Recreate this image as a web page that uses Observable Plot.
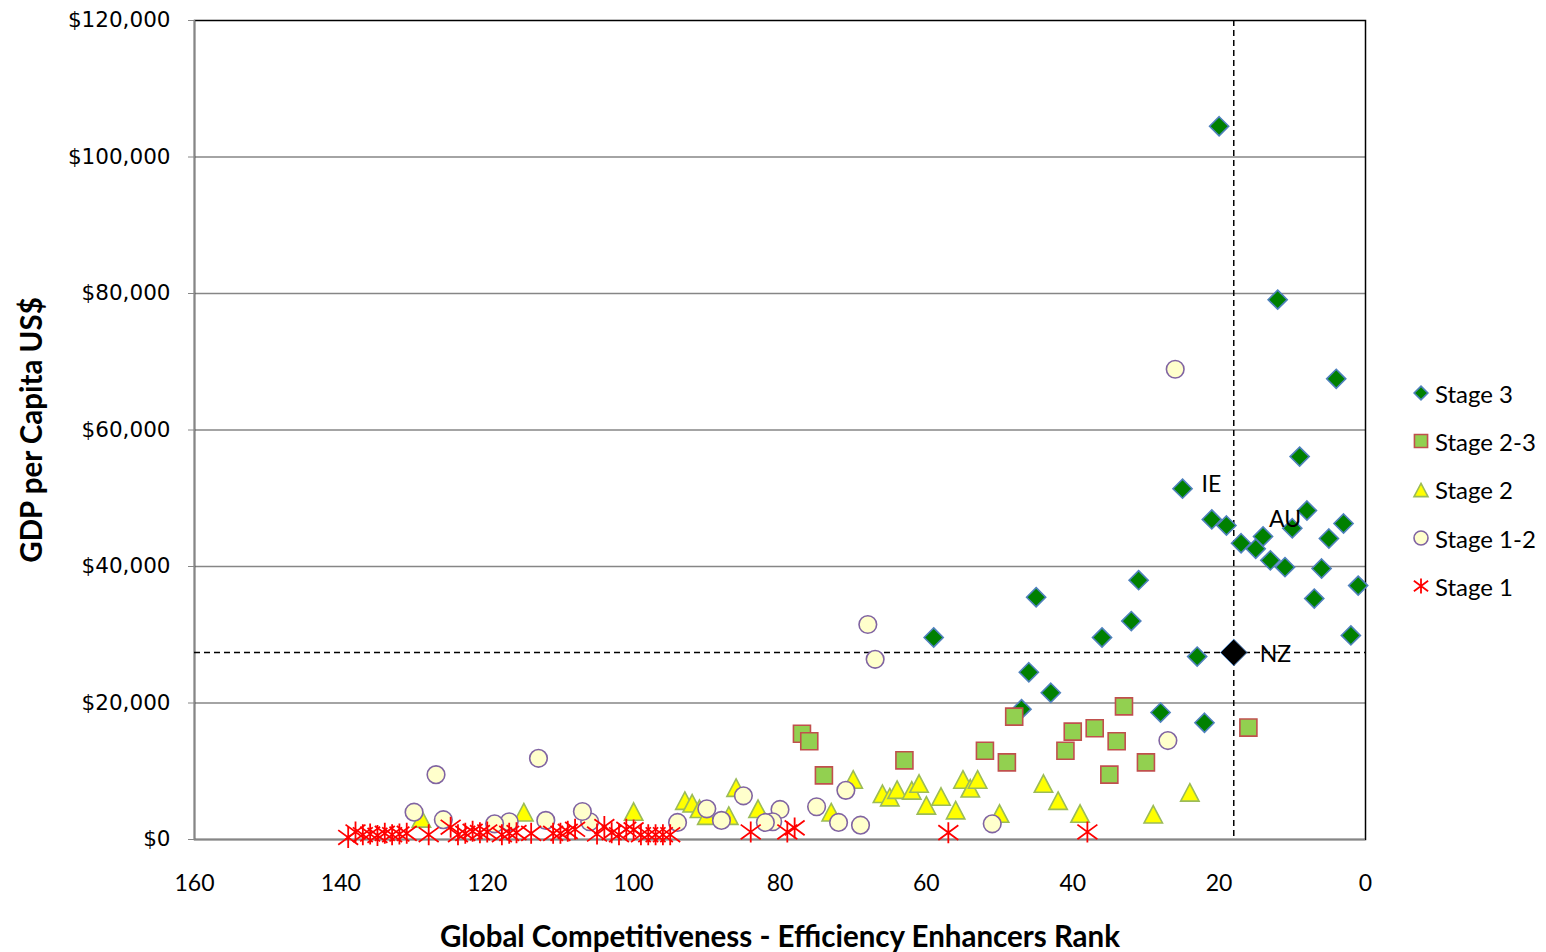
<!DOCTYPE html>
<html>
<head>
<meta charset="utf-8">
<script src="https://cdn.jsdelivr.net/npm/d3@7"></script>
<script src="https://cdn.jsdelivr.net/npm/@observablehq/plot@0.6"></script>
<style>
  body { margin: 0; background: #fff; }
  #wrap { position: relative; width: 1546px; height: 952px; overflow: hidden; background: #fff; }
  #legend { position: absolute; left: 1412px; top: 369px; font-family: Lato, sans-serif; font-size: 24px; color: #000; }
  #legend .row { display: flex; align-items: center; height: 48.3px; }
  #legend .row svg { margin-right: 5px; }
</style>
</head>
<body>
<div id="wrap"></div>
<script>
// ---- data: [rank, GDP per capita US$] ----
const stage3 = [
  [20,104500],[12,79100],[4,67500],[9,56100],[25,51400],[8,48200],[3,46300],[21,46900],
  [19,46000],[10,45600],[14,44400],[5,44100],[17,43400],[15,42600],[13,40900],[11,39900],
  [6,39700],[1,37200],[31,38000],[45,35500],[7,35300],[32,32000],[36,29600],[59,29600],
  [2,29900],[23,26800],[46,24500],[43,21500],[47,19100],[28,18600],[22,17100]
];
const stage23 = [
  [33,19500],[48,18000],[37,16300],[40,15800],[16,16400],[77,15500],[76,14400],[34,14400],
  [41,13000],[52,13000],[63,11600],[49,11300],[30,11300],[74,9400],[35,9500]
];
const stage2 = [
  [129,3100],[115,4000],[100,4100],[93,5700],[92,5300],[91,4500],[90,3500],[87,3500],
  [86,7600],[83,4500],[73,4000],[70,8800],[66,6700],[65,6200],[64,7300],[62,7200],
  [61,8200],[60,5000],[58,6300],[56,4300],[55,8800],[54,7500],[53,8800],[50,3800],
  [44,8200],[42,5700],[39,3800],[29,3700],[24,6900]
];
const stage12 = [
  [26,68900],[68,31500],[67,26400],[113,11900],[127,9500],[27,14500],[51,2300],[71,7200],
  [72,2500],[69,2100],[75,4800],[80,4400],[81,2600],[82,2500],[85,6400],[88,2800],
  [90,4500],[94,2500],[106,2600],[107,4100],[112,2800],[117,2600],[119,2300],[126,2900],[130,4000]
];
const stage1 = [
  [139,300],[138,1100],[137,700],[136,800],[135,600],[134,900],[133,700],[132,800],[131,900],
  [128,700],[125,1800],[124,700],[123,900],[122,1200],[121,1000],[120,1100],[118,700],[117,900],
  [116,1000],[114,900],[111,900],[110,900],[109,1200],[108,1500],[105,800],[104,1900],[103,1000],
  [102,700],[101,1500],[100,1400],[99,700],[98,700],[97,700],[96,700],[95,700],
  [84,1100],[79,1100],[78,1700],[57,1000],[38,1100]
];
const nz = [[18,27400]];
const labelNames = ["IE","AU","NZ"];
const labelPoints = [[25,51400],[14,44400],[18,27400]];
const seriesNames = ["Stage 3","Stage 2-3","Stage 2","Stage 1-2","Stage 1"];
const xTicks = [160,140,120,100,80,60,40,20,0];
const yTicks = [0,20000,40000,60000,80000,100000,120000];
const xTitle = "Global Competitiveness - Efficiency Enhancers Rank";
const yTitle = "GDP per Capita US$";

// ---- custom symbols ----
const triSym = { draw(ctx, size) { const r = Math.sqrt(size / Math.PI);
  ctx.moveTo(0, -0.95 * r); ctx.lineTo(r, 0.95 * r); ctx.lineTo(-r, 0.95 * r); ctx.closePath(); } };
const starSym = { draw(ctx, size) { const r = Math.sqrt(size / Math.PI);
  ctx.moveTo(0, -r); ctx.lineTo(0, r);
  ctx.moveTo(-0.95 * r, -0.7 * r); ctx.lineTo(0.95 * r, 0.7 * r);
  ctx.moveTo(-0.95 * r, 0.7 * r); ctx.lineTo(0.95 * r, -0.7 * r); } };

const series = [
  {data: stage3,  symbol: d3.symbolDiamond2, fill: "#008000", stroke: "#4F81BD", r: 8.6, sw: 1.6, lr: 6.2},
  {data: stage23, symbol: d3.symbolSquare,   fill: "#92D050", stroke: "#C0504D", r: 9.6, sw: 1.6, lr: 7.4},
  {data: stage2,  symbol: triSym,            fill: "#FFFF00", stroke: "#9BBB59", r: 9.2, sw: 1.6, lr: 7.0},
  {data: stage12, symbol: d3.symbolCircle,   fill: "#FFFFCC", stroke: "#8064A2", r: 8.8, sw: 1.6, lr: 7.0},
  {data: stage1,  symbol: starSym,           fill: "none",    stroke: "#FF0000", r: 10.5, sw: 1.8, lr: 7.5}
];
const labelOffsets = [[19, -4], [6, -17], [26, 2]];

const gray = "#868686";
const fmtY = d => "$" + d3.format(",")(d);

const marks = [
  Plot.ruleY(yTicks.filter(d => d > 0 && d < 120000), {stroke: gray, strokeWidth: 1.5}),
  Plot.frame({stroke: "#000", strokeWidth: 1.5}),
  Plot.ruleX([xTicks[0]], {stroke: gray, strokeWidth: 1.5}),
  Plot.ruleY([0], {stroke: gray, strokeWidth: 1.5}),
  Plot.axisY({ticks: yTicks, tickFormat: fmtY, tickSize: 6, tickPadding: 18, stroke: gray,
              fontSize: 21.5, fontFamily: "DejaVu Sans", fill: "#000", label: null}),
  Plot.axisX({ticks: xTicks, tickSize: 0, tickPadding: 35, fontSize: 23, fontFamily: "Lato",
              fill: "#000", label: null}),
  Plot.ruleX(nz, {x: d => d[0], stroke: "#000", strokeWidth: 1.5, strokeDasharray: "6,4"}),
  Plot.ruleY(nz, {y: d => d[1], stroke: "#000", strokeWidth: 1.5, strokeDasharray: "6,4"}),
  ...series.map(s => Plot.dot(s.data, {x: d => d[0], y: d => d[1], symbol: s.symbol, r: s.r,
      fill: s.fill, stroke: s.stroke, strokeWidth: s.sw})),
  Plot.dot(nz, {x: d => d[0], y: d => d[1], symbol: d3.symbolDiamond2, r: 12, fill: "#000",
      stroke: "#4F81BD", strokeWidth: 1}),
  ...labelNames.map((n, i) => Plot.text([labelPoints[i]], {x: d => d[0], y: d => d[1], text: () => n,
      dx: labelOffsets[i][0], dy: labelOffsets[i][1], textAnchor: "start", fontSize: 23,
      fontFamily: "Lato", fill: "#000"})),
  Plot.text([xTitle], {text: d => d, frameAnchor: "bottom", textAnchor: "middle", lineAnchor: "middle",
      dy: 98, fontSize: 29.5, fontWeight: "bold", fontFamily: "Lato", fill: "#000"}),
  Plot.text([yTitle], {text: d => d, frameAnchor: "left", textAnchor: "middle", lineAnchor: "middle",
      rotate: -90, dx: -162, fontSize: 29.5, fontWeight: "bold", fontFamily: "Lato", fill: "#000"})
];

const chart = Plot.plot({
  width: 1546, height: 952,
  marginLeft: 194, marginRight: 181, marginTop: 20, marginBottom: 113,
  x: {domain: [160, 0]},
  y: {domain: [0, 120000]},
  style: {background: "#fff", color: "#000", overflow: "visible"},
  marks
});
const wrap = document.getElementById("wrap");
wrap.appendChild(chart);

// ---- legend ----
const legend = document.createElement("div");
legend.id = "legend";
series.forEach((s, i) => {
  const row = document.createElement("div");
  row.className = "row";
  const svg = d3.create("svg").attr("width", 18).attr("height", 18);
  svg.append("path").attr("transform", "translate(9,9)")
    .attr("d", d3.symbol(s.symbol, Math.PI * s.lr * s.lr)())
    .attr("fill", s.fill).attr("stroke", s.stroke).attr("stroke-width", s.sw);
  row.appendChild(svg.node());
  const span = document.createElement("span");
  span.textContent = seriesNames[i];
  row.appendChild(span);
  legend.appendChild(row);
});
wrap.appendChild(legend);
</script>
</body>
</html>
